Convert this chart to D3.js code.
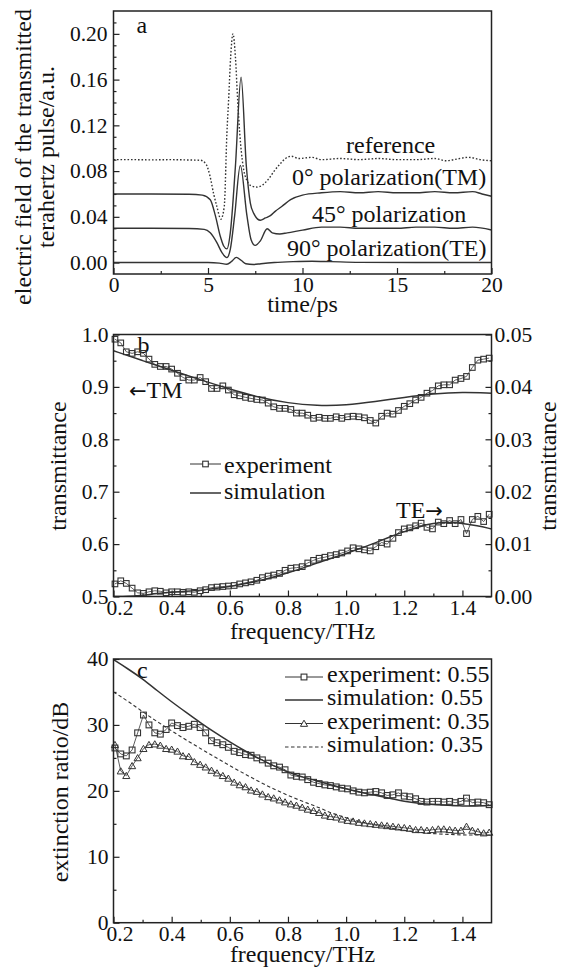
<!DOCTYPE html>
<html>
<head>
<meta charset="utf-8">
<script src="https://cdn.jsdelivr.net/npm/d3@7"></script>
<style>body{margin:0;background:#fff}</style>
</head>
<body>
<script>
"use strict";

var W = 562, H = 968;
var FONT = '"Liberation Serif", "Times New Roman", serif';
var INK = '#222';

// ---------- panel a: transmitted pulses (time in ps, field in a.u.) ----------
var tRef = [0, 1, 2, 3, 4, 4.6, 4.9, 5.1, 5.3, 5.47, 5.68, 5.86, 6.0, 6.09, 6.2, 6.32, 6.45, 6.57, 6.68, 6.85, 7.05, 7.3, 7.6, 7.9, 8.2, 8.5, 8.8, 9.1, 9.4, 9.8, 10.5, 11, 12, 13, 14, 15, 16, 17, 17.6, 18, 18.8, 19.4, 20];
var eRef = [0.090, 0.090, 0.0898, 0.090, 0.0897, 0.0895, 0.086, 0.076, 0.060, 0.049, 0.038, 0.049, 0.113, 0.142, 0.180, 0.200, 0.180, 0.142, 0.113, 0.085, 0.072, 0.067, 0.066, 0.068, 0.073, 0.080, 0.086, 0.091, 0.093, 0.091, 0.092, 0.090, 0.091, 0.090, 0.091, 0.090, 0.090, 0.091, 0.089, 0.090, 0.092, 0.090, 0.089];

var tTM = [0, 2, 4, 4.7, 5.12, 5.39, 5.65, 5.83, 6.0, 6.18, 6.45, 6.75, 7.03, 7.24, 7.42, 7.77, 8.04, 8.3, 8.57, 8.9, 9.37, 10.0, 11, 12, 13, 14, 15, 16, 17, 18, 19, 19.5, 20];
var eTM = [0.060, 0.060, 0.0598, 0.059, 0.055, 0.041, 0.023, 0.0145, 0.012, 0.026, 0.084, 0.162, 0.084, 0.052, 0.043, 0.037, 0.039, 0.041, 0.045, 0.049, 0.055, 0.059, 0.061, 0.062, 0.061, 0.062, 0.061, 0.061, 0.062, 0.061, 0.062, 0.060, 0.058];

var t45 = [0, 2, 4, 4.8, 5.12, 5.47, 5.74, 6.0, 6.18, 6.41, 6.71, 7.06, 7.28, 7.5, 7.77, 8.13, 8.4, 8.8, 9.19, 10.0, 11, 12, 13, 14, 15, 16, 17, 18, 19, 20];
var e45 = [0.030, 0.030, 0.0298, 0.029, 0.026, 0.0174, 0.0087, 0.0043, 0.0116, 0.041, 0.085, 0.041, 0.020, 0.015, 0.019, 0.0296, 0.026, 0.025, 0.026, 0.0284, 0.031, 0.031, 0.030, 0.030, 0.030, 0.031, 0.031, 0.030, 0.031, 0.0285];

var tTE = [0, 3, 5, 5.6, 6.0, 6.25, 6.5, 6.75, 7.0, 7.4, 7.8, 8.5, 9.5, 10.5, 11.5, 13, 16, 20];
var eTE = [0, 0, 0, -0.0005, -0.0015, 0.001, 0.0045, 0.002, -0.001, -0.0017, -0.001, 0, 0.0008, 0.0012, 0.0008, 0.0002, 0, 0];

// ---------- panel b / c: measured frequencies (THz) ----------
var freq = [0.205, 0.225, 0.244, 0.264, 0.283, 0.303, 0.322, 0.342, 0.361, 0.381,
  0.400, 0.420, 0.439, 0.459, 0.478, 0.498, 0.517, 0.537, 0.556, 0.576,
  0.595, 0.615, 0.634, 0.654, 0.673, 0.693, 0.712, 0.732, 0.751, 0.771,
  0.790, 0.810, 0.829, 0.849, 0.868, 0.888, 0.907, 0.927, 0.946, 0.966,
  0.985, 1.005, 1.024, 1.044, 1.063, 1.083, 1.102, 1.122, 1.141, 1.161,
  1.180, 1.200, 1.219, 1.239, 1.258, 1.278, 1.297, 1.317, 1.336, 1.356,
  1.375, 1.395, 1.414, 1.434, 1.453, 1.473, 1.492];

// panel b: TM transmittance (left axis), TE transmittance (right axis)
var tmExp = [0.991, 0.984, 0.967, 0.964, 0.967, 0.964, 0.953, 0.943, 0.939, 0.939,
  0.934, 0.926, 0.918, 0.913, 0.913, 0.918, 0.910, 0.897, 0.897, 0.902,
  0.894, 0.885, 0.883, 0.880, 0.878, 0.876, 0.875, 0.869, 0.862, 0.859,
  0.859, 0.857, 0.850, 0.850, 0.846, 0.840, 0.842, 0.840, 0.840, 0.843,
  0.840, 0.843, 0.844, 0.843, 0.841, 0.836, 0.831, 0.844, 0.850, 0.848,
  0.855, 0.863, 0.868, 0.875, 0.880, 0.888, 0.893, 0.902, 0.904, 0.904,
  0.913, 0.916, 0.920, 0.937, 0.951, 0.953, 0.955];
var teExp = [0.0024, 0.0030, 0.0025, 0.0016, 0.0007, 0.0006, 0.0009, 0.0011, 0.0010, 0.0007,
  0.0009, 0.0009, 0.0008, 0.0009, 0.0008, 0.0011, 0.0013, 0.0017, 0.0018, 0.0019,
  0.0020, 0.0021, 0.0024, 0.0026, 0.0028, 0.0031, 0.0036, 0.0039, 0.0041, 0.0044,
  0.0050, 0.0054, 0.0055, 0.0057, 0.0064, 0.0069, 0.0073, 0.0075, 0.0078, 0.0080,
  0.0083, 0.0087, 0.0093, 0.0091, 0.0089, 0.0087, 0.0095, 0.0103, 0.0100, 0.0111,
  0.0122, 0.0129, 0.0131, 0.0135, 0.0140, 0.0132, 0.0129, 0.0142, 0.0139, 0.0145,
  0.0139, 0.0147, 0.0120, 0.0147, 0.0153, 0.0143, 0.0157];

var simFreqTM = [0.2, 0.3, 0.4, 0.5, 0.6, 0.7, 0.8, 0.9, 1.0, 1.1, 1.2, 1.3, 1.4, 1.5];
var tmSim = [0.969, 0.950, 0.932, 0.913, 0.896, 0.880, 0.869, 0.864, 0.865, 0.872, 0.880, 0.887, 0.890, 0.888];

var simFreq = [0.2, 0.25, 0.3, 0.35, 0.4, 0.45, 0.5, 0.55, 0.6, 0.65, 0.7, 0.75, 0.8, 0.85, 0.9, 0.95, 1.0, 1.05, 1.1, 1.15, 1.2, 1.25, 1.3, 1.35, 1.4, 1.45, 1.5];
var teSim = [0.0000, 0.0000, 0.0002, 0.0006, 0.0008, 0.0010, 0.0012, 0.0015, 0.0019, 0.0024, 0.0030, 0.0037, 0.0045, 0.0054, 0.0064, 0.0073, 0.0082, 0.0092, 0.0102, 0.0114, 0.0124, 0.0133, 0.0140, 0.0142, 0.0140, 0.0135, 0.0129];

// panel c: extinction ratio (dB)
var ext055 = [26.5, 25.6, 25.3, 26.2, 28.8, 31.5, 30.0, 28.8, 28.6, 29.3,
  30.3, 29.9, 29.6, 29.8, 30.1, 29.6, 28.8, 27.6, 27.3, 27.0,
  26.6, 26.0, 25.8, 25.5, 25.4, 25.0, 24.7, 24.2, 23.8, 23.6,
  23.2, 22.4, 22.2, 22.1, 21.7, 21.3, 21.1, 20.9, 20.8, 20.6,
  20.4, 20.3, 20.0, 19.8, 19.7, 19.8, 19.9, 19.7, 19.3, 19.4,
  19.7, 19.2, 19.1, 18.8, 18.4, 18.3, 18.4, 18.4, 18.3, 18.4,
  18.2, 18.4, 18.9, 18.2, 18.3, 18.2, 17.9];
var ext035 = [27.0, 23.0, 22.3, 23.8, 25.0, 26.4, 27.0, 27.1, 26.9, 26.4,
  26.3, 26.0, 25.3, 25.2, 24.4, 24.0, 23.6, 23.1, 22.7, 22.3,
  21.9, 21.3, 20.9, 20.6, 20.1, 19.9, 19.5, 19.1, 18.9, 18.6,
  18.3, 18.0, 17.8, 17.5, 17.2, 17.0, 16.7, 16.3, 16.1, 16.0,
  15.7, 15.5, 15.4, 15.2, 15.1, 15.0, 14.9, 14.8, 14.7, 14.6,
  14.5, 14.4, 14.3, 14.1, 14.1, 14.0, 14.1, 14.2, 14.2, 14.1,
  14.0, 14.0, 14.6, 14.0, 13.8, 13.6, 13.7];
var extSim055 = [39.9, 38.5, 37.0, 35.2, 33.5, 31.9, 30.3, 28.8, 27.4, 26.1, 24.9, 23.8, 22.8, 22.1, 21.5, 20.9, 20.3, 19.8, 19.3, 18.9, 18.4, 18.1, 17.9, 17.8, 17.7, 17.7, 17.8];
var extSim035 = [35.0, 33.6, 32.0, 30.5, 29.1, 27.7, 26.4, 25.1, 23.8, 22.6, 21.4, 20.3, 19.3, 18.4, 17.6, 16.6, 15.9, 15.3, 14.8, 14.4, 14.0, 13.7, 13.5, 13.4, 13.3, 13.3, 13.3];

// ---------- ticks ----------
var aXTicks = [0, 5, 10, 15, 20], aXMinor = [2.5, 7.5, 12.5, 17.5];
var aYTicks = [0, 0.04, 0.08, 0.12, 0.16, 0.20];
var aYMinor = [0.01, 0.02, 0.03, 0.05, 0.06, 0.07, 0.09, 0.10, 0.11, 0.13, 0.14, 0.15, 0.17, 0.18, 0.19, 0.21];
var fTicks = [0.2, 0.4, 0.6, 0.8, 1.0, 1.2, 1.4], fMinor = [0.3, 0.5, 0.7, 0.9, 1.1, 1.3];
var bYTicks = [0.5, 0.6, 0.7, 0.8, 0.9, 1.0], bYMinor = [0.55, 0.65, 0.75, 0.85, 0.95];
var bY2Ticks = [0, 0.01, 0.02, 0.03, 0.04, 0.05], bY2Minor = [0.005, 0.015, 0.025, 0.035, 0.045];
var cYTicks = [0, 10, 20, 30, 40], cYMinor = [5, 15, 25, 35];

var left = 113.5, right = 491.5;
var pa = {top: 11, bottom: 274};
var pb = {top: 334.5, bottom: 596.5};
var pc = {top: 659, bottom: 922.7};

var svg = d3.select("body").append("svg")
  .attr("width", W).attr("height", H)
  .style("background", "#fff")
  .attr("font-family", FONT);

// scales
var xa = d3.scaleLinear().domain([0, 20]).range([left, right]);
var ya = d3.scaleLinear().domain([-0.01, 0.22]).range([pa.bottom, pa.top]);
var xf = d3.scaleLinear().domain([0.2, 1.5]).range([left, right]);
var ybL = d3.scaleLinear().domain([0.5, 1.0]).range([pb.bottom, pb.top]);
var ybR = d3.scaleLinear().domain([0, 0.05]).range([pb.bottom, pb.top]);
var xc = d3.scaleLinear().domain([0.2, 1.5]).range([left, right]);
var yc = d3.scaleLinear().domain([0, 40]).range([pc.bottom, pc.top]);

// clip paths, one per panel
[["clipA", pa], ["clipB", pb], ["clipC", pc]].forEach(function (c) {
  svg.append("clipPath").attr("id", c[0]).append("rect")
    .attr("x", left).attr("y", c[1].top)
    .attr("width", right - left).attr("height", c[1].bottom - c[1].top);
});

function addAxis(axisFn, scale, pos, major, minor, fmt, pad, firstShift) {
  var g = svg.append("g").attr("transform", pos);
  if (minor) g.append("g").call(axisFn(scale).tickValues(minor).tickSize(-3).tickFormat(""));
  g.append("g").call(axisFn(scale).tickValues(major).tickSize(-6).tickPadding(pad).tickFormat(fmt));
  g.selectAll(".domain").remove();
  g.selectAll("line").attr("stroke", INK).attr("stroke-width", 1.2);
  g.selectAll("text").attr("font-family", FONT).attr("font-size", 21.5).attr("fill", "#111");
  // the first frequency label sits a little to the right in the original
  if (firstShift) {
    g.selectAll(".tick text").filter(function (d) { return d === major[0]; }).attr("x", firstShift);
  }
  return g;
}

function frame(p) {
  svg.append("rect").attr("x", left).attr("y", p.top)
    .attr("width", right - left).attr("height", p.bottom - p.top)
    .attr("fill", "none").attr("stroke", INK).attr("stroke-width", 1.5);
}

function label(txt, x, y, opts) {
  opts = opts || {};
  var t = svg.append("text").attr("x", 0).attr("y", 0)
    .attr("transform", "translate(" + x + "," + y + ")" + (opts.rot ? " rotate(-90)" : ""))
    .attr("font-size", opts.size || 24)
    .attr("fill", "#111")
    .attr("text-anchor", opts.anchor || "start")
    .text(txt);
  return t;
}

// label with a longer arrow glyph taken from DejaVu Sans
function arrowLabel(parts, x, y) {
  var t = svg.append("text").attr("x", x).attr("y", y).attr("font-size", 24).attr("fill", "#111");
  parts.forEach(function (p) {
    t.append("tspan").attr("font-family", p.arrow ? "DejaVu Sans" : FONT)
      .attr("font-size", p.arrow ? 21 : 24).text(p.s);
  });
}

function drawLine(xs, ys, xScale, yScale, clip, style) {
  var line = d3.line().x(function (d) { return xScale(d[0]); })
    .y(function (d) { return yScale(d[1]); })
    .curve(style.curve || d3.curveMonotoneX);
  svg.append("path").datum(d3.zip(xs, ys))
    .attr("clip-path", "url(#" + clip + ")")
    .attr("d", line)
    .attr("fill", "none")
    .attr("stroke", style.color || "#333")
    .attr("stroke-width", style.width || 1.4)
    .attr("stroke-dasharray", style.dash || null);
}

function squares(xs, ys, xScale, yScale, s) {
  svg.append("g").selectAll("rect").data(d3.zip(xs, ys)).join("rect")
    .attr("x", function (d) { return xScale(d[0]) - s / 2; })
    .attr("y", function (d) { return yScale(d[1]) - s / 2; })
    .attr("width", s).attr("height", s)
    .attr("fill", "none").attr("stroke", "#333").attr("stroke-width", 1.1);
}

function triangles(xs, ys, xScale, yScale, size) {
  var sym = d3.symbol().type(d3.symbolTriangle).size(size);
  svg.append("g").selectAll("path").data(d3.zip(xs, ys)).join("path")
    .attr("transform", function (d) { return "translate(" + xScale(d[0]) + "," + (yScale(d[1]) + 0.8) + ")"; })
    .attr("d", sym)
    .attr("fill", "none").attr("stroke", "#333").attr("stroke-width", 1.0);
}

// =================== panel a ===================
addAxis(d3.axisBottom, xa, "translate(0," + pa.bottom + ")", aXTicks, aXMinor, d3.format("d"), 3);
addAxis(d3.axisLeft, ya, "translate(" + left + ",0)", aYTicks, aYMinor, d3.format(".2f"), 6);

drawLine(tRef, eRef, xa, ya, "clipA", {dash: "1.6,1.9", width: 1.4});
drawLine(tTM, eTM, xa, ya, "clipA", {});
drawLine(t45, e45, xa, ya, "clipA", {});
drawLine(tTE, eTE, xa, ya, "clipA", {});
frame(pa);

label("a", 136.5, 33);
label("reference", 346, 153);
label("0\u00b0 polarization(TM)", 292, 185);
label("45\u00b0 polarization", 312, 222);
label("90\u00b0 polarization(TE)", 287, 256);
label("time/ps", (left + right) / 2, 312, {anchor: "middle"});
label("electric field of the transmitted", 30.5, 157, {rot: true, anchor: "middle"});
label("terahertz pulse/a.u.", 54, 157, {rot: true, anchor: "middle"});

// =================== panel b ===================
addAxis(d3.axisBottom, xf, "translate(0," + pb.bottom + ")", fTicks, fMinor, d3.format(".1f"), 3, 6);
addAxis(d3.axisLeft, ybL, "translate(" + left + ",0)", bYTicks, bYMinor, d3.format(".1f"), 5);
addAxis(d3.axisRight, ybR, "translate(" + right + ",0)", bY2Ticks, bY2Minor, d3.format(".2f"), 3);

label("b", 137.5, 353);
drawLine(simFreqTM, tmSim, xf, ybL, "clipB", {width: 1.5, curve: d3.curveBasis});
drawLine(simFreq, teSim, xf, ybR, "clipB", {width: 1.5, curve: d3.curveBasis});
drawLine(freq, tmExp, xf, ybL, "clipB", {width: 0.8, curve: d3.curveLinear});
drawLine(freq, teExp, xf, ybR, "clipB", {width: 0.8, curve: d3.curveLinear});
squares(freq, tmExp, xf, ybL, 5.6);
squares(freq, teExp, xf, ybR, 5.6);
frame(pb);

arrowLabel([{s: "\u2190", arrow: true}, {s: "TM"}], 129, 398);
arrowLabel([{s: "TE"}, {s: "\u2192", arrow: true}], 396, 518);
// legend b
svg.append("line").attr("x1", 190).attr("x2", 221).attr("y1", 464).attr("y2", 464).attr("stroke", "#333").attr("stroke-width", 1);
svg.append("rect").attr("x", 205.5 - 2.8).attr("y", 464 - 2.8).attr("width", 5.6).attr("height", 5.6).attr("fill", "#fff").attr("stroke", "#333").attr("stroke-width", 1.1);
label("experiment", 224, 473);
svg.append("line").attr("x1", 190).attr("x2", 221).attr("y1", 493).attr("y2", 493).attr("stroke", "#333").attr("stroke-width", 1.5);
label("simulation", 224, 499);
label("frequency/THz", (left + right) / 2, 639, {anchor: "middle"});
label("transmittance", 66, 466, {rot: true, anchor: "middle"});
label("transmittance", 556, 466, {rot: true, anchor: "middle"});

// =================== panel c ===================
addAxis(d3.axisBottom, xc, "translate(0," + pc.bottom + ")", fTicks, fMinor, d3.format(".1f"), 3, 6);
addAxis(d3.axisLeft, yc, "translate(" + left + ",0)", cYTicks, cYMinor, d3.format("d"), 5);

label("c", 137, 678);
drawLine(simFreq, extSim055, xc, yc, "clipC", {width: 1.5, curve: d3.curveBasis});
drawLine(simFreq, extSim035, xc, yc, "clipC", {width: 1.1, dash: "3.5,2.5", curve: d3.curveBasis});
drawLine(freq, ext055, xc, yc, "clipC", {width: 0.8, curve: d3.curveLinear});
drawLine(freq, ext035, xc, yc, "clipC", {width: 0.8, curve: d3.curveLinear});
squares(freq, ext055, xc, yc, 5.8);
triangles(freq, ext035, xc, yc, 22);
frame(pc);

// legend c
var legC = [
  {txt: "experiment: 0.55", y: 682, mark: "sq", w: 1},
  {txt: "simulation: 0.55", y: 705, mark: null, w: 1.5},
  {txt: "experiment: 0.35", y: 728.5, mark: "tri", w: 1},
  {txt: "simulation: 0.35", y: 752, mark: null, w: 1.1, dash: "3.5,2.5"}
];
legC.forEach(function (d) {
  var ly = d.y - 5;
  svg.append("line").attr("x1", 285).attr("x2", 323).attr("y1", ly).attr("y2", ly)
    .attr("stroke", "#333").attr("stroke-width", d.w).attr("stroke-dasharray", d.dash || null);
  if (d.mark === "sq") {
    svg.append("rect").attr("x", 304 - 2.9).attr("y", ly - 2.9).attr("width", 5.8).attr("height", 5.8)
      .attr("fill", "#fff").attr("stroke", "#333").attr("stroke-width", 1.1);
  } else if (d.mark === "tri") {
    svg.append("path").attr("transform", "translate(304," + (ly + 0.8) + ")")
      .attr("d", d3.symbol().type(d3.symbolTriangle).size(22))
      .attr("fill", "#fff").attr("stroke", "#333").attr("stroke-width", 1.0);
  }
  label(d.txt, 327, d.y);
});

label("frequency/THz", (left + right) / 2, 962, {anchor: "middle"});
label("extinction ratio/dB", 68, 792, {rot: true, anchor: "middle"});
</script>
</body>
</html>
